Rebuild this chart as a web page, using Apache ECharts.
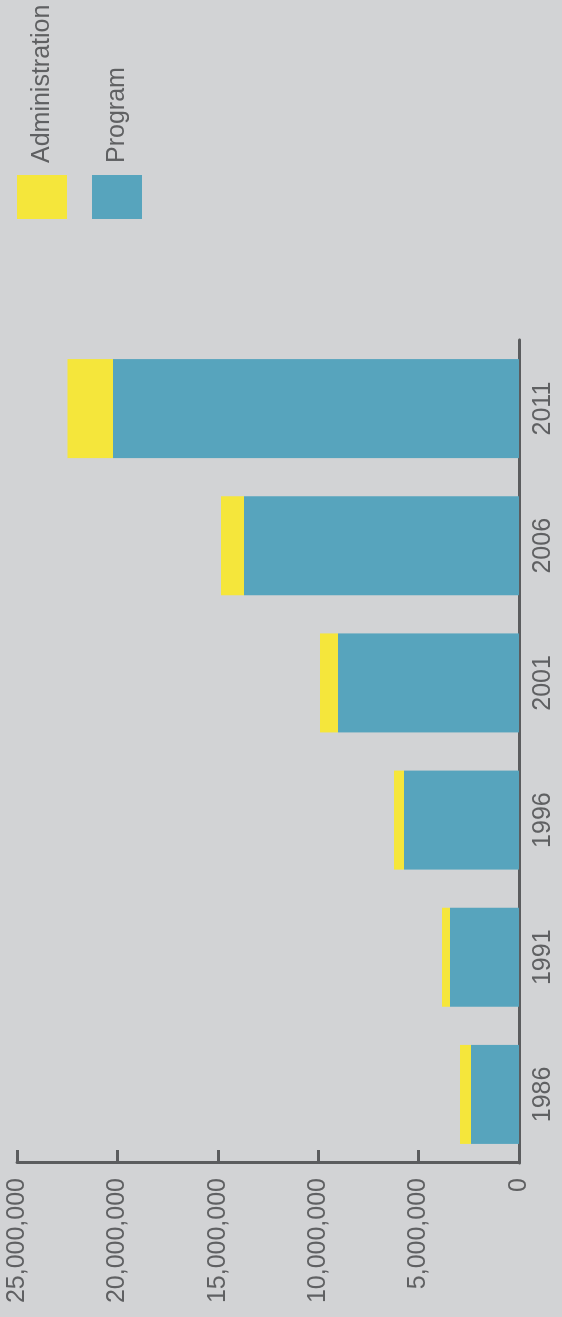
<!DOCTYPE html>
<html>
<head>
<meta charset="utf-8">
<script src="https://cdn.jsdelivr.net/npm/echarts@6/dist/echarts.min.js"></script>
<style>
  html, body { margin: 0; padding: 0; background: #d2d3d5; width: 562px; height: 1317px; overflow: hidden; }
  #chart {
    position: absolute; left: 0; top: 0;
    width: 1317px; height: 562px;
    transform-origin: 0 0;
    transform: translate(0, 1317px) rotate(-90deg);
  }
</style>
</head>
<body>
<div id="chart"></div>
<script>
const years = ['1986', '1991', '1996', '2001', '2006', '2011'];
const programValues = [2390000, 3440000, 5730000, 9010000, 13700000, 20220000];
const adminValues = [550000, 390000, 500000, 900000, 1140000, 2260000];
const valueTicks = { min: 0, max: 25000000, interval: 5000000 };

const textColor = '#5f6062';
const axisColor = '#5b5c5e';
const font = '"Liberation Sans", Arial, sans-serif';

const chart = echarts.init(document.getElementById('chart'), null, { renderer: 'canvas' });
chart.setOption({
  backgroundColor: '#d2d3d5',
  animation: false,
  legend: {
    orient: 'vertical',
    left: 1098, top: 17,
    padding: 0,
    itemWidth: 44, itemHeight: 50, itemGap: 25,
    icon: 'rect',
    data: ['Administration', 'Program'],
    textStyle: { fontSize: 25, color: textColor, fontFamily: font, padding: [0, 0, 0, 7] }
  },
  grid: { left: 154, right: 340, top: 17, bottom: 43, containLabel: false },
  xAxis: {
    type: 'category',
    data: years,
    axisLine: { lineStyle: { color: axisColor, width: 3 } },
    axisTick: { inside: true, length: 13, lineStyle: { color: axisColor, width: 3 } },
    axisLabel: { fontSize: 25, color: textColor, fontFamily: font, margin: 12 }
  },
  yAxis: {
    type: 'value',
    min: valueTicks.min, max: valueTicks.max, interval: valueTicks.interval,
    splitLine: { show: false },
    axisLine: { show: true, lineStyle: { color: axisColor, width: 3 } },
    axisTick: { show: true, inside: true, length: 13, lineStyle: { color: axisColor, width: 3 } },
    axisLabel: {
      fontSize: 25, color: textColor, fontFamily: font, margin: 15,
      formatter: v => v.toLocaleString('en-US')
    }
  },
  series: [
    {
      name: 'Program', type: 'bar', stack: 'total', data: programValues,
      barWidth: 99, itemStyle: { color: '#57a4bd' }
    },
    {
      name: 'Administration', type: 'bar', stack: 'total', data: adminValues,
      barWidth: 99, itemStyle: { color: '#f5e63b' }
    }
  ]
});
</script>
</body>
</html>
